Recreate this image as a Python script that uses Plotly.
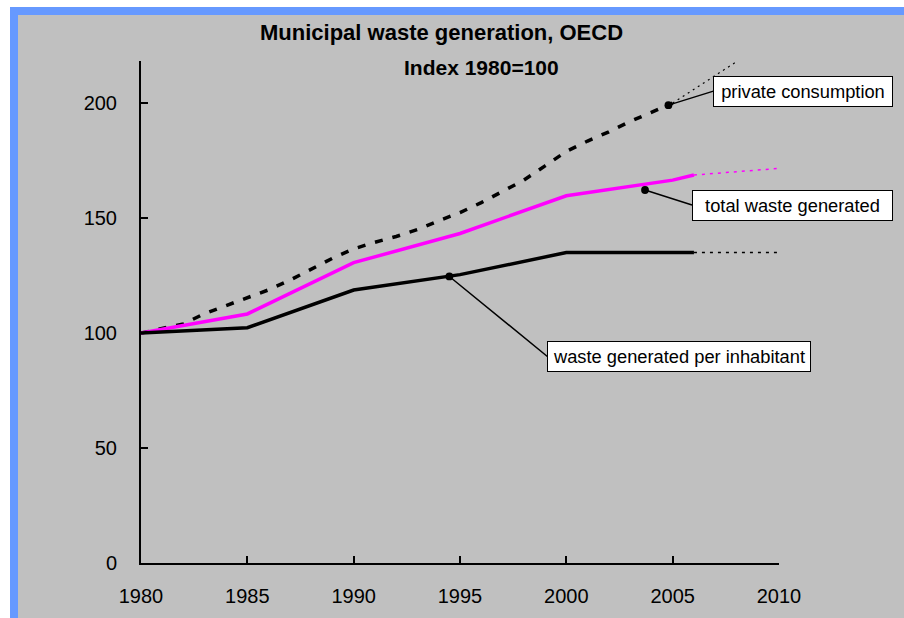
import plotly.graph_objects as go

# ---------------- data ----------------
years_pc = [1980, 1981, 1982, 1983, 1984, 1985, 1986, 1987, 1988, 1989, 1990,
            1991, 1992, 1993, 1994, 1995, 1996, 1997, 1998, 1999, 2000,
            2001, 2002, 2003, 2004, 2005]
private_consumption = [100, 102, 104, 108.5, 112, 115.2, 118.8, 123, 127.8, 132.5, 136.6,
                       139.5, 142, 145, 148.8, 152.4, 156.7, 161.4, 166.5, 172.7, 179,
                       183.5, 187.5, 192, 196, 200]
pc_ext_years = [2005, 2008]
pc_ext = [200, 218]

years_w = [1980, 1985, 1990, 1995, 2000, 2005, 2006]
total_waste = [100, 108.3, 130.6, 143.3, 159.7, 166.5, 168.7]
tw_ext_years = [2006, 2010]
tw_ext = [168.7, 171.6]

per_inhabitant = [100, 102.3, 118.7, 125.4, 135, 135, 135]
pi_ext_years = [2006, 2010]
pi_ext = [135, 135]

x_ticks = [1980, 1985, 1990, 1995, 2000, 2005, 2010]
y_ticks = [0, 50, 100, 150, 200]

title_text = "Municipal waste generation, OECD"
subtitle_text = "Index 1980=100"
labels = ["private consumption", "total waste generated", "waste generated per inhabitant"]
# callout anchor points (year, index)
anchor_x = [2004.8, 2003.7, 1994.5]
anchor_y = [199.1, 162.2, 124.6]

# ---------------- layout helpers ----------------
L, R, T, B = 141, 779, 61, 563
FW, FH = 904, 618
W, H = R - L, B - T

def px2x(px):
    return (px - L) / W

def py2y(py):
    return (B - py) / H

GRAY = "#C0C0C0"
BLUE = "#6699FF"
MAGENTA = "#FF00FF"
SANS = "Liberation Sans, Arial, sans-serif"

fig = go.Figure()

fig.add_trace(go.Scatter(x=years_pc, y=private_consumption, mode="lines",
                         line=dict(color="black", width=3.5, dash="8px,10px"),
                         hoverinfo="skip"))
fig.add_trace(go.Scatter(x=pc_ext_years, y=pc_ext, mode="lines",
                         line=dict(color="black", width=1.2, dash="2px,4px"),
                         hoverinfo="skip"))
fig.add_trace(go.Scatter(x=years_w, y=total_waste, mode="lines",
                         line=dict(color=MAGENTA, width=3.5),
                         hoverinfo="skip"))
fig.add_trace(go.Scatter(x=tw_ext_years, y=tw_ext, mode="lines",
                         line=dict(color=MAGENTA, width=1.5, dash="3px,5px"),
                         hoverinfo="skip"))
fig.add_trace(go.Scatter(x=years_w, y=per_inhabitant, mode="lines",
                         line=dict(color="black", width=3.5),
                         hoverinfo="skip"))
fig.add_trace(go.Scatter(x=pi_ext_years, y=pi_ext, mode="lines",
                         line=dict(color="black", width=1.5, dash="3px,5px"),
                         hoverinfo="skip"))

shapes = [
    # white outer strips (left and top)
    dict(type="rect", xref="paper", yref="paper", layer="below",
         x0=px2x(-20), y0=py2y(-20), x1=px2x(10), y1=py2y(FH + 20),
         fillcolor="white", line=dict(width=0)),
    dict(type="rect", xref="paper", yref="paper", layer="below",
         x0=px2x(-20), y0=py2y(-20), x1=px2x(FW + 20), y1=py2y(7),
         fillcolor="white", line=dict(width=0)),
    # blue frame (left and top)
    dict(type="rect", xref="paper", yref="paper", layer="below",
         x0=px2x(10), y0=py2y(7), x1=px2x(18), y1=py2y(FH + 20),
         fillcolor=BLUE, line=dict(width=0)),
    dict(type="rect", xref="paper", yref="paper", layer="below",
         x0=px2x(10), y0=py2y(7), x1=px2x(FW + 20), y1=py2y(15),
         fillcolor=BLUE, line=dict(width=0)),
]

# callout offsets (pixels) from anchor to box edge
offs = [(45, -14), (47, 15), (98, 80)]
widths = [170, 191, 254]
annotations = [
    dict(text="<b>%s</b>" % title_text, xref="paper", yref="paper",
         x=px2x(441), y=py2y(32), xanchor="center", yanchor="middle",
         showarrow=False, font=dict(family=SANS, size=22, color="black")),
    dict(text="<b>%s</b>" % subtitle_text, xref="paper", yref="paper",
         x=px2x(481), y=py2y(67), xanchor="center", yanchor="middle",
         showarrow=False, font=dict(family=SANS, size=21, color="black")),
]
for lab, ax_, ay_, (dx, dy), wd in zip(labels, anchor_x, anchor_y, offs, widths):
    annotations.append(dict(
        text=lab, x=ax_, y=ay_, xref="x", yref="y",
        showarrow=True, ax=dx, ay=dy, xanchor="left", yanchor="middle",
        arrowhead=6, arrowsize=1.3, arrowwidth=1.5, arrowcolor="black",
        bgcolor="white", bordercolor="black", borderwidth=1, borderpad=4,
        width=wd, align="center",
        font=dict(family=SANS, size=18.3, color="black")))

fig.update_layout(
    width=FW, height=FH, autosize=False,
    margin=dict(l=L, r=FW - R, t=T, b=FH - B, pad=0, autoexpand=False),
    paper_bgcolor=GRAY, plot_bgcolor="rgba(0,0,0,0)",
    showlegend=False,
    shapes=shapes, annotations=annotations,
    xaxis=dict(range=[1980, 2010], tickvals=x_ticks, ticktext=[str(v) for v in x_ticks],
               automargin=False,
               showgrid=False, zeroline=False, showline=True, linecolor="black", linewidth=2,
               ticks="inside", ticklen=7, tickwidth=1.5, tickcolor="black",
               ticklabelstandoff=14,
               tickfont=dict(family=SANS, size=20, color="black")),
    yaxis=dict(range=[0, 218.3], tickvals=y_ticks, ticktext=[str(v) for v in y_ticks],
               automargin=False,
               showgrid=False, zeroline=False, showline=True, linecolor="black", linewidth=2,
               ticks="inside", ticklen=7, tickwidth=1.5, tickcolor="black",
               ticklabelstandoff=18,
               tickfont=dict(family=SANS, size=20, color="black")),
)

fig.write_html("out.html", config=dict(displayModeBar=False),
               post_script=("document.documentElement.style.overflow='hidden';"
                            "document.documentElement.style.background='%s';"
                            "document.body.style.margin='0';"
                            "document.body.style.overflow='hidden';"
                            "document.body.style.background='%s';") % (GRAY, GRAY))
